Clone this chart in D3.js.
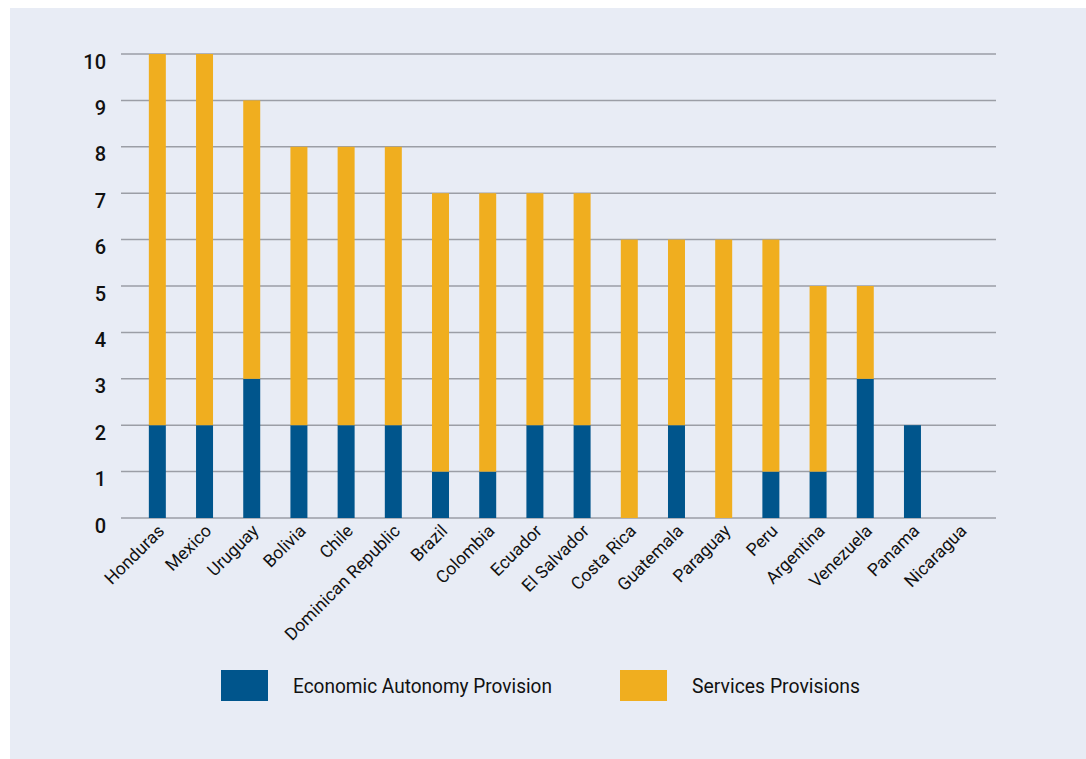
<!DOCTYPE html>
<html>
<head>
<meta charset="utf-8">
<script src="https://cdn.jsdelivr.net/npm/d3@7"></script>
<style>
  html, body { margin: 0; padding: 0; background: #ffffff; }
  svg { display: block; }
</style>
</head>
<body>
<svg id="chart" width="1086" height="759"></svg>
<script>
// Number of provisions per country, split by type
const countries = ["Honduras", "Mexico", "Uruguay", "Bolivia", "Chile", "Dominican Republic",
  "Brazil", "Colombia", "Ecuador", "El Salvador", "Costa Rica", "Guatemala", "Paraguay",
  "Peru", "Argentina", "Venezuela", "Panama", "Nicaragua"];
const economicAutonomy = [2, 2, 3, 2, 2, 2, 1, 1, 2, 2, 0, 2, 0, 1, 1, 3, 2, 0];
const services =         [8, 8, 6, 6, 6, 6, 6, 6, 5, 5, 6, 4, 6, 5, 4, 2, 0, 0];
const yTicks = [0, 1, 2, 3, 4, 5, 6, 7, 8, 9, 10];
const seriesNames = ["Economic Autonomy Provision", "Services Provisions"];
const seriesColors = ["#00558c", "#f0ae1f"];

const svg = d3.select("#chart");
const font = "Roboto, 'Liberation Sans', sans-serif";

// panel background
svg.append("rect")
  .attr("x", 10).attr("y", 8)
  .attr("width", 1076).attr("height", 751)
  .attr("fill", "#e8ecf5");

const plot = { left: 121, right: 996, top: 54, bottom: 518 };

const x = d3.scaleBand()
  .domain(countries)
  .range([plot.left, plot.right])
  .paddingInner(0.64)
  .paddingOuter(0.59);

const y = d3.scaleLinear()
  .domain([0, 10])
  .range([plot.bottom, plot.top]);

// gridlines
svg.append("g")
  .selectAll("line")
  .data(yTicks)
  .join("line")
  .attr("x1", plot.left).attr("x2", plot.right)
  .attr("y1", d => y(d)).attr("y2", d => y(d))
  .attr("stroke", "#9b9ea6")
  .attr("stroke-width", 1.5);

// y axis labels, set slightly below their gridlines
const yAxis = svg.append("g")
  .attr("transform", `translate(${plot.left},0)`)
  .call(d3.axisLeft(y).tickValues(yTicks).tickSize(0).tickPadding(15));
yAxis.select(".domain").remove();
yAxis.selectAll("text")
  .attr("font-family", font)
  .attr("font-size", 20)
  .attr("font-weight", 500)
  .attr("fill", "#111")
  .attr("dy", "0.7em");

// stacked bars
const rows = countries.map((c, i) => ({ country: c, eco: economicAutonomy[i], srv: services[i] }));
const stacked = d3.stack().keys(["eco", "srv"])(rows);

svg.append("g")
  .selectAll("g")
  .data(stacked)
  .join("g")
  .attr("fill", (d, i) => seriesColors[i])
  .selectAll("rect")
  .data(d => d)
  .join("rect")
  .attr("x", d => x(d.data.country))
  .attr("width", x.bandwidth())
  .attr("y", d => y(d[1]))
  .attr("height", d => y(d[0]) - y(d[1]));

// category labels rotated
const xAxis = svg.append("g")
  .attr("transform", `translate(0,${plot.bottom})`)
  .call(d3.axisBottom(x).tickSize(0).tickPadding(0));
xAxis.select(".domain").remove();
xAxis.selectAll("text")
  .attr("font-family", font)
  .attr("font-size", 17.5)
  .attr("fill", "#111")
  .attr("text-anchor", "end")
  .attr("dy", null)
  .attr("y", 0)
  .attr("transform", "translate(8,14) rotate(-45)");

// legend
const legend = svg.append("g");
const legendX = [221, 620];
const legendTextLen = [259, 168];
seriesNames.forEach((name, i) => {
  legend.append("rect")
    .attr("x", legendX[i]).attr("y", 670)
    .attr("width", 47).attr("height", 31)
    .attr("fill", seriesColors[i]);
  legend.append("text")
    .attr("x", legendX[i] + 72).attr("y", 693)
    .attr("font-family", font)
    .attr("font-size", 21)
    .attr("textLength", legendTextLen[i])
    .attr("lengthAdjust", "spacingAndGlyphs")
    .attr("fill", "#111")
    .text(name);
});
</script>
</body>
</html>
